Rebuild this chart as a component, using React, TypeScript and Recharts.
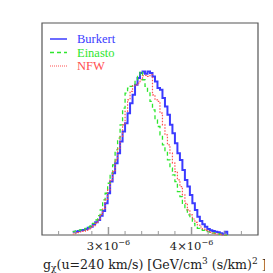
import React from 'react'
import { LineChart, Line, XAxis, YAxis, ReferenceArea } from 'recharts'

// histogram bins: left edges start at 2.57e-6, width 0.03e-6
const binStart = 2.57
const binWidth = 0.03

const burkert = [
  10, 10, 12, 14, 15, 18, 22, 25, 32, 38, 45, 58, 72, 95, 125, 160, 185, 215, 245, 280,
  310, 335, 365, 395, 420, 450, 470, 485, 490, 483, 490, 485, 475, 460, 440, 435, 410, 385, 360, 330,
  305, 275, 245, 225, 195, 165, 145, 120, 95, 75, 55, 42, 32, 25, 18, 14, 12, 10, 8, 5,
  2, 10,
]
const einasto = [
  10, 12, 14, 16, 15, 20, 24, 27, 35, 45, 58, 75, 105, 125, 155, 185, 210, 255, 290, 330,
  380, 425, 440, 445, 450, 465, 475, 490, 465, 445, 430, 400, 375, 345, 325, 300, 270, 250, 225, 200,
  180, 160, 130, 115, 95, 75, 60, 50, 35, 25, 20, 16, 14, 12, 10, 8, 6, 5, 3, 2,
  0, 0,
]
const nfw = [
  3, 5, 7, 9, 11, 14, 18, 22, 28, 35, 45, 62, 80, 105, 135, 165, 190, 225, 260, 295,
  330, 370, 405, 430, 447, 450, 455, 465, 477, 478, 475, 480, 420, 405, 400, 365, 330, 300, 270, 245,
  215, 190, 165, 145, 120, 95, 75, 60, 48, 38, 30, 24, 18, 14, 11, 8, 6, 4, 3, 2,
  0, 0,
]

const xTicks = [2.4, 2.6, 2.8, 3.0, 3.2, 3.4, 3.6, 3.8, 4.0, 4.2, 4.4, 4.6]
const majorTicks = [3.0, 4.0]

const data = burkert.map((b, i) => ({
  x: +(binStart + i * binWidth).toFixed(2),
  burkert: b,
  einasto: einasto[i],
  nfw: nfw[i],
}))
data.push({ x: +(binStart + burkert.length * binWidth).toFixed(2), burkert: 0, einasto: 0, nfw: 0 })

const FONT = '"DejaVu Serif", serif'
const LEGEND_FONT = '"Liberation Serif", serif'

const Tick = (props: any) => {
  const { x, y, payload } = props
  const v = Math.round(payload.value * 10) / 10
  const major = majorTicks.includes(v)
  return (
    <g>
      <line x1={x} x2={x} y1={y} y2={y - (major ? 8 : 4)} stroke="#999" strokeWidth={major ? 1.5 : 1} />
      {major && (
        <text x={x} y={y + 15} textAnchor="middle" fontFamily={FONT} fontSize={11.5} fill="#222">
          {v.toFixed(0)}×10<tspan fontSize={8} dy={-5}>−6</tspan>
        </text>
      )}
    </g>
  )
}

const AxisTitle = (props: any) => {
  const { viewBox } = props
  return (
    <text x={viewBox.x + 1} y={viewBox.y + 34} fontFamily={FONT} fontSize={12.6} fill="#222">
      g<tspan fontSize={9} dy={2}>χ</tspan>
      <tspan dy={-2}>(u=240 km/s) [GeV/cm</tspan>
      <tspan fontSize={9} dy={-5}>3</tspan>
      <tspan dy={5}> (s/km)</tspan>
      <tspan fontSize={9} dy={-5}>2</tspan>
      <tspan dy={5}> ]</tspan>
    </text>
  )
}

const legendItems = [
  { name: 'Burkert', color: '#3b3bff', dash: undefined, width: 1.5 },
  { name: 'Einasto', color: '#2ee62e', dash: '4 3', width: 1.3 },
  { name: 'NFW', color: '#ff5050', dash: '1 1', width: 1 },
]

export default function App() {
  return (
    <div style={{ position: 'relative', width: 265, height: 265 }}>
      <LineChart width={265} height={265} data={data} margin={{ top: 15, right: 15, left: 34, bottom: 0 }}>
        <XAxis
          dataKey="x"
          type="number"
          domain={[2.2, 4.8]}
          ticks={xTicks}
          allowDataOverflow
          axisLine={false}
          tickLine={false}
          tickSize={0}
          tickMargin={0}
          height={38}
          tick={<Tick />}
          interval={0}
          label={{ content: <AxisTitle /> }}
        />
        <YAxis hide domain={[0, 635]} />
        <ReferenceArea x1={2.2} x2={4.8} y1={0} y2={635} fill="none" stroke="#555" strokeWidth={1.2} />
        <Line type="stepAfter" dataKey="burkert" stroke="#3b3bff" strokeWidth={2} dot={false} isAnimationActive={false} />
        <Line type="stepAfter" dataKey="einasto" stroke="#2ee62e" strokeWidth={1.3} strokeDasharray="4 3" dot={false} isAnimationActive={false} />
        <Line type="stepAfter" dataKey="nfw" stroke="#ff5050" strokeWidth={1.2} strokeDasharray="1.5 1.5" dot={false} isAnimationActive={false} />
      </LineChart>
      <svg width={100} height={50} style={{ position: 'absolute', left: 40, top: 24 }}>
        {legendItems.map((it, i) => (
          <g key={it.name}>
            <line x1={2} x2={19} y1={7 + i * 13.5} y2={7 + i * 13.5} stroke={it.color} strokeWidth={it.width} strokeDasharray={it.dash} />
            <text x={29} y={11 + i * 13.5} fontFamily={LEGEND_FONT} fontSize={12.5} fill={it.color}>{it.name}</text>
          </g>
        ))}
      </svg>
    </div>
  )
}
